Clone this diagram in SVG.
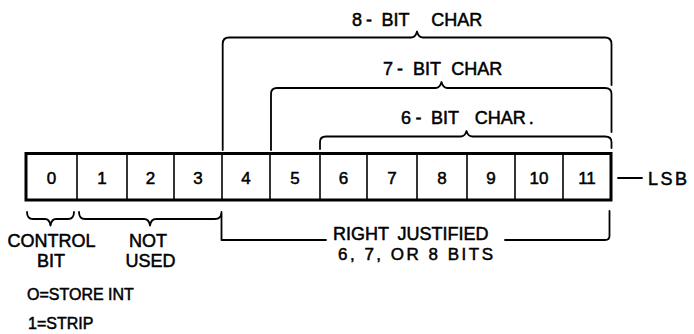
<svg xmlns="http://www.w3.org/2000/svg" width="694" height="334" viewBox="0 0 694 334">
<style>
text{font-family:"Liberation Sans",Arial,sans-serif;fill:#000;stroke:#000;stroke-width:0.5}
.lbl{font-size:18px}
.dig{font-size:17px;text-anchor:middle}
.leg{font-size:16px}
.mid{text-anchor:middle}
.br{fill:none;stroke:#000;stroke-width:1.8;stroke-linecap:round;stroke-linejoin:round}
.div{stroke:#000;stroke-width:1.6}
</style>
<rect width="694" height="334" fill="#fff"/>
<g id="register">
<rect x="26" y="153.5" width="585" height="46.5" fill="#fff" stroke="#000" stroke-width="3"/>
<g id="dividers">
<line class="div" x1="77" y1="153.5" x2="77" y2="200"/>
<line class="div" x1="127" y1="153.5" x2="127" y2="200"/>
<line class="div" x1="174" y1="153.5" x2="174" y2="200"/>
<line class="div" x1="222" y1="153.5" x2="222" y2="200"/>
<line class="div" x1="270" y1="153.5" x2="270" y2="200"/>
<line class="div" x1="320" y1="153.5" x2="320" y2="200"/>
<line class="div" x1="367" y1="153.5" x2="367" y2="200"/>
<line class="div" x1="417" y1="153.5" x2="417" y2="200"/>
<line class="div" x1="467" y1="153.5" x2="467" y2="200"/>
<line class="div" x1="515" y1="153.5" x2="515" y2="200"/>
<line class="div" x1="563" y1="153.5" x2="563" y2="200"/>
</g>
<g id="bit0"><text class="dig" x="51.5" y="183.5">0</text></g>
<g id="bit1"><text class="dig" x="102" y="183.5">1</text></g>
<g id="bit2"><text class="dig" x="150.5" y="183.5">2</text></g>
<g id="bit3"><text class="dig" x="198" y="183.5">3</text></g>
<g id="bit4"><text class="dig" x="246" y="183.5">4</text></g>
<g id="bit5"><text class="dig" x="295" y="183.5">5</text></g>
<g id="bit6"><text class="dig" x="343.5" y="183.5">6</text></g>
<g id="bit7"><text class="dig" x="392" y="183.5">7</text></g>
<g id="bit8"><text class="dig" x="442" y="183.5">8</text></g>
<g id="bit9"><text class="dig" x="491" y="183.5">9</text></g>
<g id="bit10"><text class="dig" x="539" y="183.5">10</text></g>
<g id="bit11"><text class="dig" x="587" y="183.5">11</text></g>
</g>
<g id="connectors">
<path class="br" d="M222.7 150 V44 Q222.7 37.5 229 37.5 H411 Q415.5 37.5 417 31.5 Q418.5 37.5 423 37.5 H605 Q611.5 37.5 611.5 44 V85"/>
<path class="br" d="M271 150 V94 Q271 88 277 88 H435.5 Q440 88 441.5 82 Q443 88 447.5 88 H605 Q611.5 88 611.5 94 V132"/>
<path class="br" d="M320 149 V142 Q320 136.5 326 136.5 H460.5 Q465 136.5 466.5 131 Q468 136.5 472.5 136.5 H605 Q611.5 136.5 611.5 142 V148"/>
<path class="br" d="M27 212 Q27 219 33 219 H45 Q49.5 219 50.5 225.5 Q51.5 219 56 219 H68 Q74 219 74 212"/>
<path class="br" d="M79 212 Q79 219 85 219 H144 Q149 219 150 225.5 Q151 219 156 219 H215 Q221.5 219 221.5 212"/>
<path class="br" d="M221.5 214 V240 H326"/>
<path class="br" d="M505 240 H605 Q609.5 240 609.5 236 V211"/>
<line class="br" x1="618" y1="178" x2="642" y2="178"/>
</g>
<g id="label-8bit"><text class="lbl" x="352" y="26">8<tspan dx="4">-</tspan><tspan dx="9.5">BIT</tspan> <tspan dx="17">CHAR</tspan></text></g>
<g id="label-7bit"><text class="lbl" x="383" y="74.5">7<tspan dx="4">-</tspan><tspan dx="10">BIT</tspan> <tspan dx="5.5">CHAR</tspan></text></g>
<g id="label-6bit"><text class="lbl" x="401" y="123.5">6<tspan dx="4.5">-</tspan><tspan dx="9.5">BIT</tspan> <tspan dx="11">CHAR</tspan><tspan dx="3">.</tspan></text></g>
<g id="label-lsb"><text class="lbl" x="648" y="184.5" font-size="17" letter-spacing="2.5">LSB</text></g>
<g id="label-control"><text class="lbl mid" x="51.5" y="246.5">CONTROL</text><text class="lbl mid" x="51" y="266.5">BIT</text></g>
<g id="label-notused"><text class="lbl mid" x="148" y="246.5">NOT</text><text class="lbl mid" x="150.5" y="266.5">USED</text></g>
<g id="label-right"><text class="lbl" x="333" y="240">RIGHT<tspan dx="8.5">JUSTIFIED</tspan></text><text x="338" y="259.5" font-size="17" textLength="155" lengthAdjust="spacing">6, 7, OR 8 BITS</text></g>
<g id="legend"><text class="leg" x="27" y="300">O=STORE INT</text><text class="leg" x="28" y="329">1=STRIP</text></g>
</svg>
